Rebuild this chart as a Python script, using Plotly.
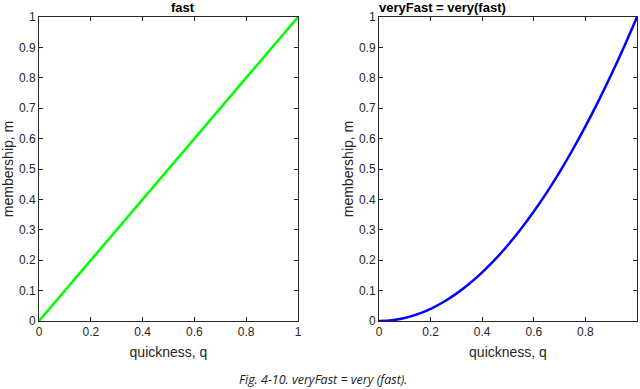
import plotly.graph_objects as go
from plotly.subplots import make_subplots

# quickness values and membership
q_fast = [0.0, 1.0]
m_fast = [0.0, 1.0]

q_very = [0.0, 0.05, 0.1, 0.15, 0.2, 0.25, 0.3, 0.35, 0.4, 0.45, 0.5,
          0.55, 0.6, 0.65, 0.7, 0.75, 0.8, 0.85, 0.9, 0.95, 1.0]
m_very = [0.0, 0.0025, 0.01, 0.0225, 0.04, 0.0625, 0.09, 0.1225, 0.16, 0.2025, 0.25,
          0.3025, 0.36, 0.4225, 0.49, 0.5625, 0.64, 0.7225, 0.81, 0.9025, 1.0]

x_ticks = [0, 0.2, 0.4, 0.6, 0.8, 1]
x_labels = ['0', '0.2', '0.4', '0.6', '0.8', '1']
y_ticks = [0, 0.1, 0.2, 0.3, 0.4, 0.5, 0.6, 0.7, 0.8, 0.9, 1]
y_labels = ['0', '0.1', '0.2', '0.3', '0.4', '0.5', '0.6', '0.7', '0.8', '0.9', '1']

W, H = 640, 389
font = 'Liberation Sans, Arial, sans-serif'
grey = '#262626'

fig = make_subplots(rows=1, cols=2)

fig.add_trace(go.Scatter(x=q_fast, y=m_fast, mode='lines',
                         line=dict(color='#00ff00', width=2.5), showlegend=False),
              row=1, col=1)
fig.add_trace(go.Scatter(x=q_very, y=m_very, mode='lines', line_shape='spline',
                         line=dict(color='#0000ff', width=2.5), showlegend=False),
              row=1, col=2)

y_dom = [1 - 321 / H, 1 - 17 / H]
fig.update_xaxes(domain=[39 / W, 298 / W], row=1, col=1)
fig.update_xaxes(domain=[379 / W, 637 / W], row=1, col=2)
fig.update_yaxes(domain=y_dom)

fig.update_xaxes(range=[0, 1], tickvals=x_ticks, ticktext=x_labels, automargin=False,
                 ticks='inside', ticklen=4, tickcolor=grey,
                 showline=True, linecolor=grey, linewidth=1, mirror='ticks',
                 showgrid=False, zeroline=False,
                 tickfont=dict(family=font, size=12, color=grey),
                 title=dict(text='quickness, q', standoff=8,
                            font=dict(family=font, size=14, color=grey)))
fig.update_yaxes(range=[0, 1], tickvals=y_ticks, ticktext=y_labels, automargin=False,
                 ticks='inside', ticklen=4, tickcolor=grey,
                 showline=True, linecolor=grey, linewidth=1, mirror='ticks',
                 showgrid=False, zeroline=False,
                 tickfont=dict(family=font, size=12, color=grey),
                 title=dict(text='membership, m', standoff=2,
                            font=dict(family=font, size=14, color=grey)))

titles = [('fast', (39 + 298) / 2 / W), ('veryFast = very(fast)', (379 + 637) / 2 / W)]
for text, xc in titles:
    fig.add_annotation(text='<b>' + text + '</b>', x=xc, y=1 - 8 / H,
                       xref='paper', yref='paper', showarrow=False, yanchor='middle',
                       font=dict(family=font, size=13, color='#000000'))

fig.add_annotation(text='<i>Fig. 4-10. veryFast = very (fast).</i>',
                   x=323 / W, y=1 - 379 / H, xref='paper', yref='paper',
                   showarrow=False, yanchor='middle', borderpad=0,
                   font=dict(family='Open Sans, sans-serif', size=12.5, color='#222222'))

fig.update_layout(width=W, height=H, margin=dict(l=0, r=0, t=0, b=0),
                  plot_bgcolor='white', paper_bgcolor='white')

# drop the browser's default body margin so the figure sits at the page corner
fig.write_html('out.html', config={'displayModeBar': False},
               post_script="document.body.style.margin='0';")
